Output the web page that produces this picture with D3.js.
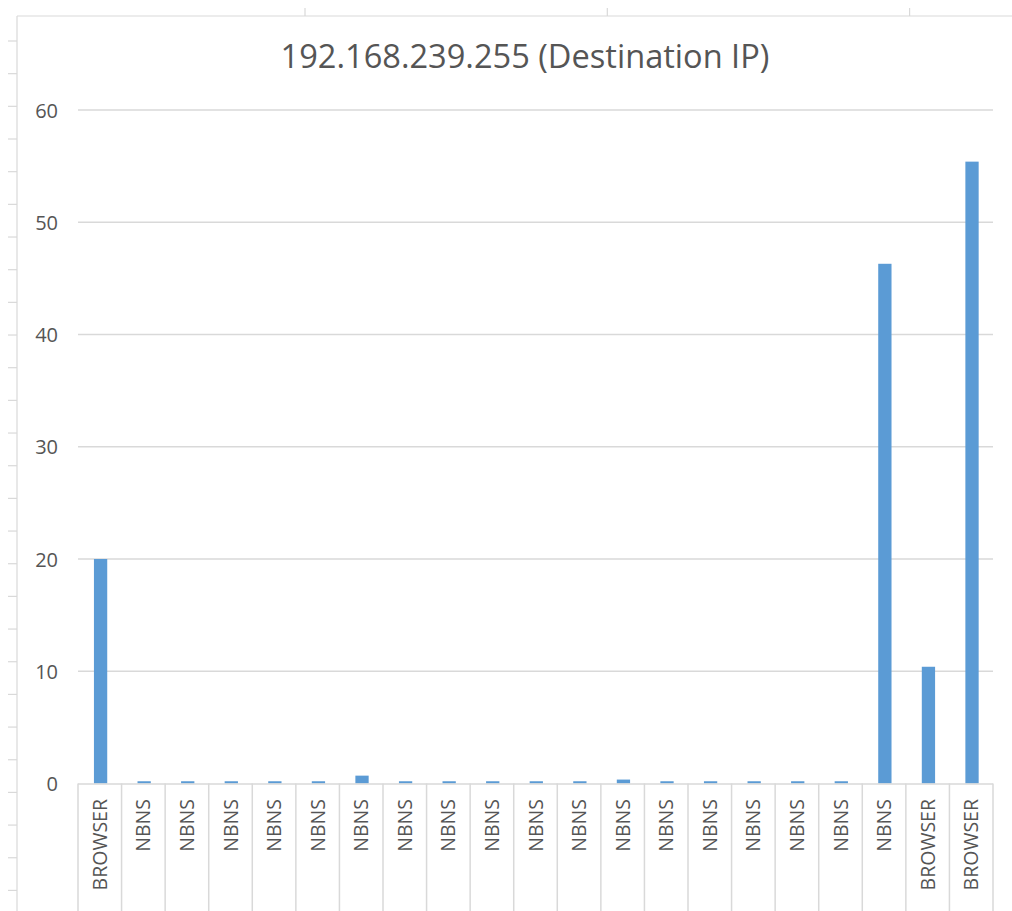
<!DOCTYPE html>
<html>
<head>
<meta charset="utf-8">
<script src="https://cdn.jsdelivr.net/npm/d3@7"></script>
<style>
  html, body { margin: 0; padding: 0; background: #fff; }
  svg { display: block; }
</style>
</head>
<body>
<svg id="chart" width="1012" height="911"></svg>
<script>
// Packet counts per protocol for broadcast destination 192.168.239.255
const categories = [
  "BROWSER", "NBNS", "NBNS", "NBNS", "NBNS", "NBNS", "NBNS", "NBNS", "NBNS", "NBNS",
  "NBNS", "NBNS", "NBNS", "NBNS", "NBNS", "NBNS", "NBNS", "NBNS", "NBNS", "BROWSER", "BROWSER"
];
const values = [
  20, 0.2, 0.2, 0.2, 0.2, 0.2, 0.7, 0.2, 0.2, 0.2,
  0.2, 0.2, 0.35, 0.2, 0.2, 0.2, 0.2, 0.2, 46.3, 10.4, 55.4
];
const yTicks = [0, 10, 20, 30, 40, 50, 60];
const title = "192.168.239.255 (Destination IP)";

const W = 1012, H = 911;
const font = "'Open Sans', 'Segoe UI', sans-serif";
const textColor = "#555555";
const lineColor = "#d9d9d9";
const barColor = "#5b9bd5";

const svg = d3.select("#chart");

// Spreadsheet frame around the chart object
const frame = svg.append("g").attr("stroke", lineColor).attr("stroke-width", 1.2);
frame.append("line").attr("x1", 17).attr("x2", 17).attr("y1", 16).attr("y2", H);
frame.append("line").attr("x1", 17).attr("x2", W).attr("y1", 16).attr("y2", 16);
frame.selectAll("line.row")
  .data(d3.range(41, H, 32.67))
  .join("line").attr("class", "row")
  .attr("x1", 8).attr("x2", 17).attr("y1", d => d).attr("y2", d => d);
frame.selectAll("line.col")
  .data(d3.range(305, W, 302.3))
  .join("line").attr("class", "col")
  .attr("x1", d => d).attr("x2", d => d).attr("y1", 8).attr("y2", 16);

// Scales
const x = d3.scaleBand().domain(d3.range(categories.length)).range([78, 993]).padding(0);
const y = d3.scaleLinear().domain([0, 60]).range([783.5, 110]);
const barW = x.bandwidth() * 0.305;

// Horizontal gridlines
svg.append("g")
  .selectAll("line")
  .data(yTicks.filter(t => t > 0))
  .join("line")
  .attr("x1", 78).attr("x2", 993)
  .attr("y1", d => y(d)).attr("y2", d => y(d))
  .attr("stroke", lineColor).attr("stroke-width", 1.3);

// Y axis labels
const yAxis = svg.append("g")
  .attr("transform", "translate(58,0)")
  .call(d3.axisLeft(y).tickValues(yTicks).tickSize(0).tickPadding(0));
yAxis.select(".domain").remove();
yAxis.selectAll("text")
  .attr("fill", textColor)
  .attr("font-family", font)
  .attr("font-size", 20)
  .attr("dy", "0.36em");

// Bars
svg.append("g")
  .selectAll("rect")
  .data(values)
  .join("rect")
  .attr("x", (d, i) => x(i) + x.bandwidth() / 2 - barW / 2 + 0.8)
  .attr("width", barW)
  .attr("y", d => y(d))
  .attr("height", d => y(0) - y(d))
  .attr("fill", barColor);

// Category axis: baseline plus separators running down through the label area
const xAxis = svg.append("g");
xAxis.append("line")
  .attr("x1", 78).attr("x2", 993)
  .attr("y1", y(0) + 0.5).attr("y2", y(0) + 0.5)
  .attr("stroke", lineColor).attr("stroke-width", 1.5);
xAxis.selectAll("line.sep")
  .data(d3.range(categories.length + 1))
  .join("line").attr("class", "sep")
  .attr("x1", i => i < categories.length ? x(i) : x.range()[1])
  .attr("x2", i => i < categories.length ? x(i) : x.range()[1])
  .attr("y1", y(0)).attr("y2", H)
  .attr("stroke", lineColor).attr("stroke-width", 1.5);
xAxis.selectAll("text")
  .data(categories)
  .join("text")
  .attr("transform", (d, i) => `translate(${x(i) + x.bandwidth() / 2},799) rotate(-90)`)
  .attr("text-anchor", "end")
  .attr("dy", "0.36em")
  .attr("fill", textColor)
  .attr("font-family", font)
  .attr("font-size", 19.5)
  .text(d => d);

// Title
svg.append("text")
  .attr("x", 525)
  .attr("y", 68)
  .attr("text-anchor", "middle")
  .attr("fill", textColor)
  .attr("font-family", font)
  .attr("font-size", 32.6)
  .text(title);
</script>
</body>
</html>
